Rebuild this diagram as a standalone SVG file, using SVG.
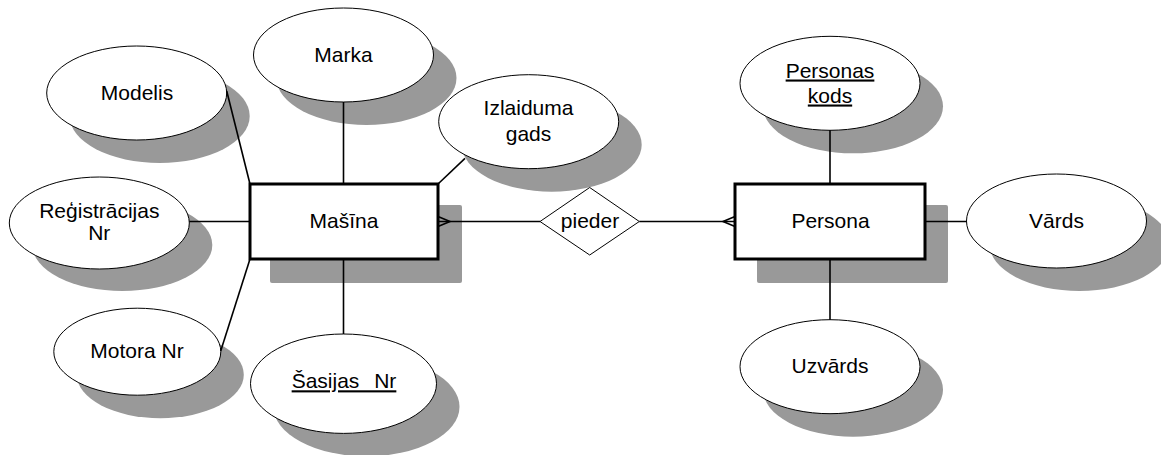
<svg xmlns="http://www.w3.org/2000/svg" width="1161" height="455" viewBox="0 0 1161 455">
<style>
.sh{fill:#999999;stroke:none}
.ell{fill:#ffffff;stroke:#000000;stroke-width:1}
.ent{fill:#ffffff;stroke:#000000;stroke-width:3}
.rel{fill:#ffffff;stroke:#000000;stroke-width:1}
.t{font-family:"Liberation Sans",Arial,sans-serif;font-size:21px;fill:#000000;text-anchor:middle}
.u{text-decoration:underline}
.c{stroke:#000000;stroke-width:1.6;fill:none}
</style>
<rect width="1161" height="455" fill="#ffffff"/>
<g id="node-modelis">
<ellipse class="sh" cx="159.7" cy="116" rx="90" ry="47"/>
<ellipse class="ell" cx="136.7" cy="93" rx="90" ry="47"/>
<text class="t" x="137" y="100">Modelis</text>
</g>
<g id="node-marka">
<ellipse class="sh" cx="366.5" cy="78" rx="90" ry="47"/>
<ellipse class="ell" cx="343.5" cy="55" rx="90" ry="47"/>
<text class="t" x="343.5" y="62.3">Marka</text>
</g>
<g id="node-izlaiduma">
<ellipse class="sh" cx="551.7" cy="144.7" rx="90" ry="47"/>
<ellipse class="ell" cx="528.7" cy="121.7" rx="90" ry="47"/>
<text class="t" x="528.5" y="115">Izlaiduma</text>
<text class="t" x="528.5" y="141">gads</text>
</g>
<g id="node-registracijas">
<ellipse class="sh" cx="122.3" cy="245" rx="90" ry="46"/>
<ellipse class="ell" cx="99.3" cy="223" rx="90" ry="46"/>
<text class="t" x="99.3" y="218.3">Reģistrācijas</text>
<text class="t" x="99.3" y="240">Nr</text>
</g>
<g id="node-motora">
<ellipse class="sh" cx="160.3" cy="374.7" rx="83.5" ry="43.5"/>
<ellipse class="ell" cx="137.3" cy="351.7" rx="83.5" ry="43.5"/>
<text class="t" x="137" y="358.3">Motora Nr</text>
</g>
<g id="node-sasijas">
<ellipse class="sh" cx="366.5" cy="406.7" rx="93" ry="49.7"/>
<ellipse class="ell" cx="343.5" cy="383.7" rx="93" ry="49.7"/>
<text class="t u" x="344" y="388.3" word-spacing="9">Šasijas Nr</text>
</g>
<g id="node-masina">
<rect class="sh" x="270" y="205" width="192" height="78" rx="2"/>
<rect class="ent" x="250" y="184" width="188" height="75"/>
<text class="t" x="344" y="228">Mašīna</text>
</g>
<g id="node-pieder">
<polygon class="rel" points="540,221.5 589.7,187.5 639.3,221.5 589.7,255"/>
<text class="t" x="590" y="228.3">pieder</text>
</g>
<g id="node-persona">
<rect class="sh" x="757" y="205" width="191" height="78" rx="2"/>
<rect class="ent" x="735" y="184" width="190" height="75"/>
<text class="t" x="830.5" y="228">Persona</text>
</g>
<g id="node-personas-kods">
<ellipse class="sh" cx="853" cy="106.3" rx="90" ry="47"/>
<ellipse class="ell" cx="830" cy="83.3" rx="90" ry="47"/>
<text class="t u" x="830" y="77.5">Personas</text>
<text class="t u" x="830" y="102.5">kods</text>
</g>
<g id="node-vards">
<ellipse class="sh" cx="1079.5" cy="244" rx="90" ry="47"/>
<ellipse class="ell" cx="1056.5" cy="221" rx="90" ry="47"/>
<text class="t" x="1056.5" y="227.7">Vārds</text>
</g>
<g id="node-uzvards">
<ellipse class="sh" cx="853" cy="389.7" rx="90" ry="47"/>
<ellipse class="ell" cx="830" cy="366.7" rx="90" ry="47"/>
<text class="t" x="830" y="372.7">Uzvārds</text>
</g>
<g id="connectors">
<line class="c" x1="226.7" y1="91" x2="250" y2="184"/>
<line class="c" x1="343.5" y1="102" x2="343.5" y2="184"/>
<line class="c" x1="465" y1="158.3" x2="438" y2="184"/>
<line class="c" x1="189.3" y1="221.5" x2="250" y2="221.5"/>
<line class="c" x1="250" y1="259" x2="220.7" y2="351"/>
<line class="c" x1="343.5" y1="259" x2="343.5" y2="334"/>
<line class="c" x1="438" y1="221.5" x2="540" y2="221.5"/>
<polyline class="c" points="438,216.5 450,221.5 438,226.5"/>
<line class="c" x1="639.3" y1="221.5" x2="735" y2="221.5"/>
<polyline class="c" points="735,216.5 723,221.5 735,226.5"/>
<line class="c" x1="830" y1="130.3" x2="830" y2="184"/>
<line class="c" x1="925" y1="221.5" x2="966.5" y2="221.5"/>
<line class="c" x1="830" y1="259" x2="830" y2="319.7"/>
</g>
</svg>
